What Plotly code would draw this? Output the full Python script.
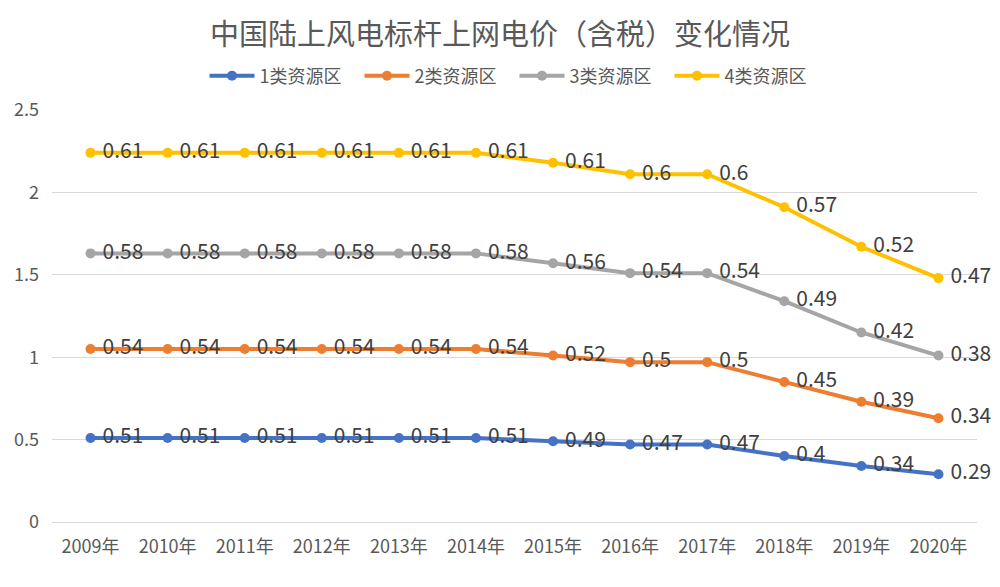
import plotly.graph_objects as go

years = ["2009年", "2010年", "2011年", "2012年", "2013年", "2014年",
         "2015年", "2016年", "2017年", "2018年", "2019年", "2020年"]
series_names = ["1类资源区", "2类资源区", "3类资源区", "4类资源区"]
zone1 = [0.51, 0.51, 0.51, 0.51, 0.51, 0.51, 0.49, 0.47, 0.47, 0.40, 0.34, 0.29]
zone2 = [0.54, 0.54, 0.54, 0.54, 0.54, 0.54, 0.52, 0.50, 0.50, 0.45, 0.39, 0.34]
zone3 = [0.58, 0.58, 0.58, 0.58, 0.58, 0.58, 0.56, 0.54, 0.54, 0.49, 0.42, 0.38]
zone4 = [0.61, 0.61, 0.61, 0.61, 0.61, 0.61, 0.61, 0.60, 0.60, 0.57, 0.52, 0.47]
colors = ["#4472C4", "#ED7D31", "#A5A5A5", "#FFC000"]

FONT = "Noto Sans CJK SC, Noto Sans, sans-serif"

fig = go.Figure()
for name, vals, col in zip(series_names, [zone1, zone2, zone3, zone4], colors):
    fig.add_trace(go.Scatter(
        x=years, y=vals, name=name, stackgroup="one", fill="none",
        mode="lines+markers+text",
        line=dict(color=col, width=4),
        marker=dict(color=col, size=10),
        text=[f" {v:g}" for v in vals],
        textposition="middle right",
        textfont=dict(family=FONT, size=21, color="#404040"),
        cliponaxis=False,
    ))

fig.update_layout(
    width=1000, height=587,
    margin=dict(l=52, r=23, t=110, b=65, autoexpand=False),
    paper_bgcolor="white", plot_bgcolor="white",
    font=dict(family=FONT, color="#595959"),
    title=dict(text="中国陆上风电标杆上网电价（含税）变化情况", x=0.5, xanchor="center",
               y=1 - 35 / 587, yanchor="middle",
               font=dict(family=FONT, size=29, color="#595959")),
    legend=dict(orientation="h", x=0.5, xanchor="center", y=(522 - 76) / 412,
                yanchor="middle", font=dict(family=FONT, size=18, color="#595959"),
                itemwidth=45, traceorder="normal", entrywidth=95),
    showlegend=True,
)
fig.update_xaxes(type="category", range=[-0.5, 11.5], showgrid=False, showline=False,
                 ticks="", automargin=False, ticklabelstandoff=12,
                 tickfont=dict(family=FONT, size=18, color="#595959"))
fig.update_yaxes(range=[0, 2.5], dtick=0.5, showgrid=True, gridcolor="#D9D9D9", gridwidth=1,
                 zeroline=True, zerolinecolor="#D9D9D9", zerolinewidth=1, showline=False,
                 ticks="", automargin=False, ticklabelstandoff=12,
                 tickfont=dict(family=FONT, size=18, color="#595959"))

fig.write_html("out.html")
